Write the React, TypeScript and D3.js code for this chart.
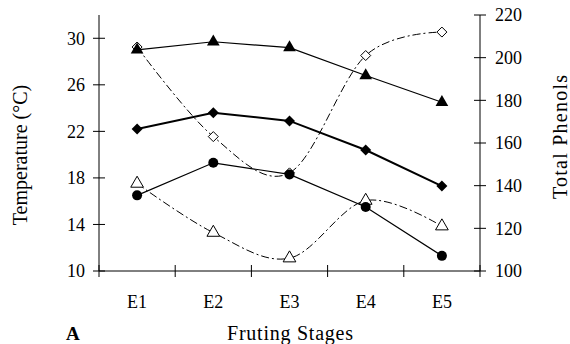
import React from 'react';
import * as d3 from 'd3';

const stages = ['E1', 'E2', 'E3', 'E4', 'E5'];
// temperature series (left axis)
const tempMax = [29.0, 29.7, 29.2, 26.8, 24.5];
const tempMean = [22.2, 23.6, 22.9, 20.4, 17.3];
const tempMin = [16.5, 19.3, 18.3, 15.5, 11.3];
// phenols series (right axis)
const phenolsA = [205, 163, 146, 201, 212];
const phenolsB = [141, 118, 106, 133, 121];
const leftTicks = [10, 14, 18, 22, 26, 30];
const rightTicks = [100, 120, 140, 160, 180, 200, 220];

const W = 570;
const H = 344;
const left = 99;
const right = 480;
const top = 15;
const bottom = 271;
const font = '"Liberation Serif", "Times New Roman", serif';

export default function App() {
  const x = d3.scaleBand<string>().domain(stages).range([left, right]);
  const yL = d3.scaleLinear().domain([10, 32]).range([bottom, top]);
  const yR = d3.scaleLinear().domain([100, 220]).range([bottom, top]);
  const cx = (s: string) => (x(s) ?? 0) + x.bandwidth() / 2;

  const lineL = d3
    .line<number>()
    .x((_, i) => cx(stages[i]))
    .y(d => yL(d));
  const smooth = d3
    .line<number>()
    .x((_, i) => cx(stages[i]))
    .y(d => yR(d))
    .curve(d3.curveCardinal.tension(0));

  const tri = d3.symbol().type(d3.symbolTriangle).size(70)() ?? '';
  const dia = (s: number) => `M0,${-s}L${s},0L0,${s}L${-s},0Z`;
  const dashDot = '8,3,2,3';
  const boundaries = [...stages.map(s => x(s) ?? 0), right];

  return (
    <svg
      width={W}
      height={H}
      style={{ position: 'absolute', left: 0, top: 0, background: '#fff' }}
      fontFamily={font}
    >
      {/* axes */}
      <g stroke="#000" strokeWidth={1}>
        <line x1={left} x2={left} y1={top} y2={bottom} />
        <line x1={right} x2={right} y1={top} y2={bottom} />
        <line x1={left} x2={right} y1={bottom} y2={bottom} />
        {leftTicks.map(t => (
          <line key={t} x1={left - 6} x2={left + 6} y1={yL(t)} y2={yL(t)} />
        ))}
        {rightTicks.map(t => (
          <line key={t} x1={right - 6} x2={right + 6} y1={yR(t)} y2={yR(t)} />
        ))}
        {boundaries.map((b, i) => (
          <line key={i} x1={b} x2={b} y1={bottom - 6} y2={bottom + 6} />
        ))}
      </g>
      <g fontSize={18} fill="#000">
        {leftTicks.map(t => (
          <text key={t} x={left - 14} y={yL(t)} dy="0.35em" textAnchor="end">
            {t}
          </text>
        ))}
        {rightTicks.map(t => (
          <text key={t} x={right + 15} y={yR(t)} dy="0.35em">
            {t}
          </text>
        ))}
        {stages.map(s => (
          <text key={s} x={cx(s)} y={302} dy="0.35em" textAnchor="middle">
            {s}
          </text>
        ))}
      </g>
      <text
        x={290}
        y={333}
        dy="0.35em"
        fontSize={20}
        textAnchor="middle"
        textLength={126}
        lengthAdjust="spacing"
      >
        Fruting Stages
      </text>
      <text x={66} y={333} dy="0.35em" fontSize={19} fontWeight="bold">
        A
      </text>
      <text
        transform={`translate(20,155) rotate(-90)`}
        dy="0.35em"
        fontSize={20}
        textAnchor="middle"
      >
        Temperature (°C)
      </text>
      <text
        transform={`translate(560,137) rotate(-90)`}
        dy="0.35em"
        fontSize={20}
        textAnchor="middle"
        textLength={124}
        lengthAdjust="spacing"
      >
        Total Phenols
      </text>

      {/* phenols, dash-dot smooth */}
      <path d={smooth(phenolsA) ?? ''} fill="none" stroke="#000" strokeWidth={1} strokeDasharray={dashDot} />
      <path d={smooth(phenolsB) ?? ''} fill="none" stroke="#000" strokeWidth={1} strokeDasharray={dashDot} />
      {phenolsA.map((v, i) => (
        <path
          key={'pa' + i}
          d={dia(5)}
          transform={`translate(${cx(stages[i])},${yR(v)})`}
          fill="#fff"
          stroke="#000"
        />
      ))}
      {phenolsB.map((v, i) => (
        <path
          key={'pb' + i}
          d={tri}
          transform={`translate(${cx(stages[i])},${yR(v)})`}
          fill="#fff"
          stroke="#000"
        />
      ))}

      {/* temperature lines */}
      <path d={lineL(tempMax) ?? ''} fill="none" stroke="#000" strokeWidth={1.2} />
      <path d={lineL(tempMean) ?? ''} fill="none" stroke="#000" strokeWidth={2} />
      <path d={lineL(tempMin) ?? ''} fill="none" stroke="#000" strokeWidth={1.2} />
      {tempMax.map((v, i) => (
        <path key={'tx' + i} d={tri} transform={`translate(${cx(stages[i])},${yL(v)})`} fill="#000" />
      ))}
      {tempMean.map((v, i) => (
        <path key={'tm' + i} d={dia(5.5)} transform={`translate(${cx(stages[i])},${yL(v)})`} fill="#000" />
      ))}
      {tempMin.map((v, i) => (
        <circle key={'tn' + i} cx={cx(stages[i])} cy={yL(v)} r={5} fill="#000" />
      ))}
    </svg>
  );
}
